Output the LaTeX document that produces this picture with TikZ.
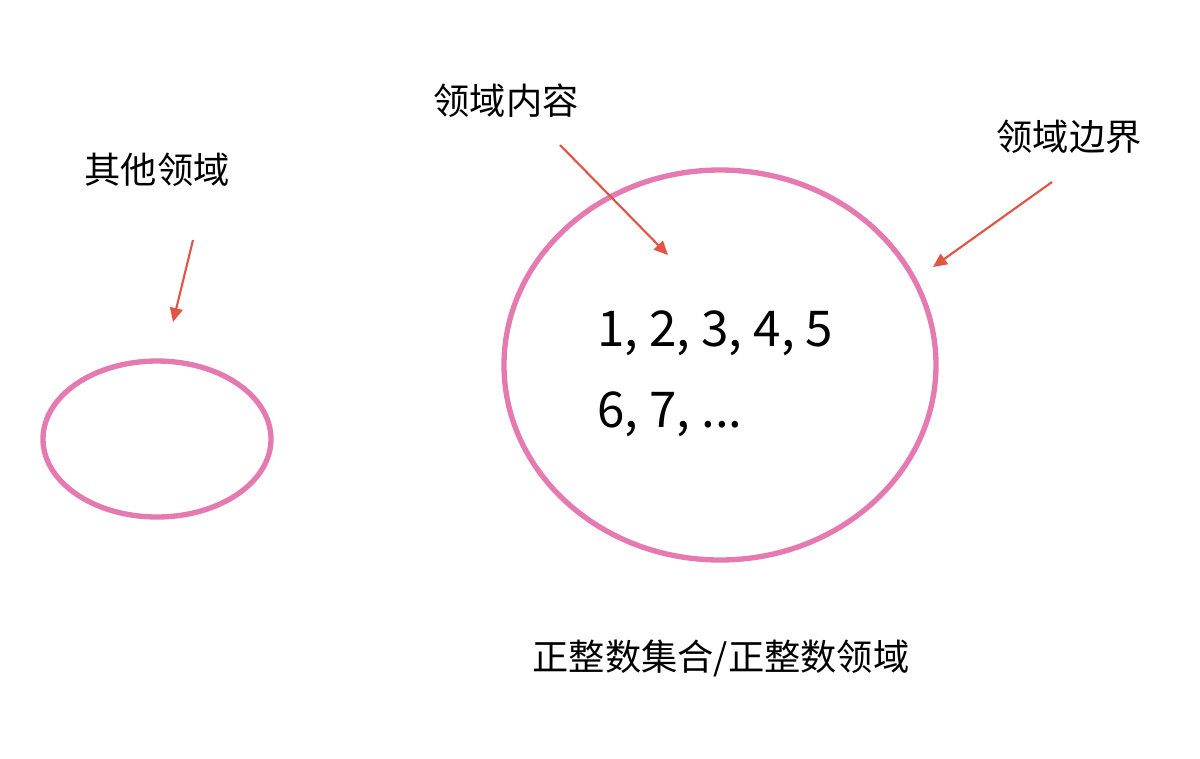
\documentclass[tikz,border=0pt]{standalone}
\usepackage{fontspec}
\setmainfont{Noto Sans CJK SC}
\usetikzlibrary{arrows.meta}
\definecolor{ringpink}{RGB}{228,122,176}
\definecolor{arrred}{RGB}{225,85,70}
\tikzset{
  ring/.style={draw=ringpink, line width=4pt},
  pointer/.style={draw=arrred, line width=1.6pt, -{Triangle[length=10.5pt,width=9.5pt]}},
  label/.style={font=\fontsize{27.2}{31}\selectfont, inner sep=0pt},
  nums/.style={font=\fontsize{37}{44}\selectfont, inner sep=0pt, anchor=base west}
}
\begin{document}
\begin{tikzpicture}[x=0.75pt,y=-0.75pt]
\useasboundingbox (0,0) rectangle (1200,758);
\draw[ring] (157,439) ellipse [x radius=114, y radius=78];
\draw[ring] (720,365) ellipse [x radius=216, y radius=195];
\node[label] (other) at (157,170) {其他领域};
\node[label] (content) at (506,101) {领域内容};
\node[label] (border) at (1069,137) {领域边界};
\node[label] (set) at (721,658) {正整数集合/正整数领域};
\node[nums] (n1) at (597,346) {1, 2, 3, 4, 5};
\node[nums] (n2) at (597,427) {6, 7, ...};
\coordinate (a1s) at (193,240); \coordinate (a1e) at (173,322);
\coordinate (a2s) at (560,145); \coordinate (a2e) at (668,255);
\coordinate (a3s) at (1052,182); \coordinate (a3e) at (933,267);
\draw[pointer] (a1s) -- (a1e);
\draw[pointer] (a2s) -- (a2e);
\draw[pointer] (a3s) -- (a3e);
\end{tikzpicture}
\end{document}
